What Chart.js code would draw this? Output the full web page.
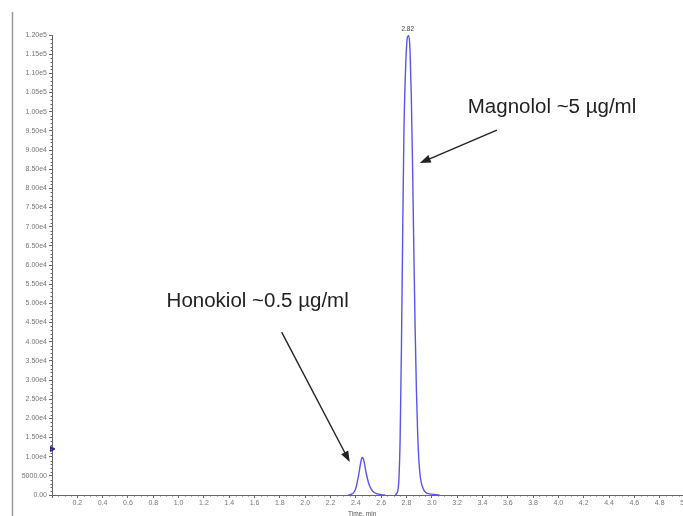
<!DOCTYPE html>
<html>
<head>
<meta charset="utf-8">
<script src="https://cdn.jsdelivr.net/npm/chart.js@4"></script>
<style>
  html, body { margin: 0; padding: 0; background: #fff; overflow: hidden; }
  #wrap { width: 700px; height: 516px; position: relative; }
</style>
</head>
<body>
<div id="wrap"><canvas id="chroma"></canvas></div>
<script>
// retention time (min) and detector response (cps)
// (only the traced stretches around the two peaks; null = break in the trace)
const timeMin = [
  2.34, 2.36, 2.38, 2.40, 2.42, 2.44, 2.45, 2.46, 2.47, 2.48, 2.50, 2.52, 2.54, 2.57, 2.60, 2.63,
  2.67,
  2.71, 2.725, 2.74, 2.75, 2.76, 2.77, 2.78, 2.795, 2.808, 2.818, 2.828, 2.838, 2.848, 2.858,
  2.868, 2.878, 2.888, 2.898, 2.91, 2.93, 2.95, 2.98, 3.02, 3.06
];
const intensity = [
  0, 150, 500, 1800, 4800, 8700, 9800, 9400, 7900, 6000, 3200, 1600, 800, 300, 100, 0,
  null,
  0, 500, 4000, 15000, 38000, 68000, 95000, 113000, 119500, 119800, 116000, 104000, 86000, 64000,
  44000, 28000, 16500, 9000, 4500, 1800, 700, 300, 120, 0
];
// peak label and start marker
const apexLabel = "2.82";
const apexTime = 2.81;
const markerTime = [0];
const markerValue = [12000];

// tick labels
const yTicks = [0, 5000, 10000, 15000, 20000, 25000, 30000, 35000, 40000, 45000, 50000,
  55000, 60000, 65000, 70000, 75000, 80000, 85000, 90000, 95000, 100000, 105000,
  110000, 115000, 120000];
const xTitle = "Time, min";

// annotations (text + arrow) in data units
const notes = [
  { text: "Magnolol ~5 µg/ml", tx: 3.284, ty: 99650, from: [3.514, 95200], to: [2.905, 86600] },
  { text: "Honokiol ~0.5 µg/ml", tx: 0.905, ty: 49000, from: [1.814, 42500], to: [2.352, 8600] }
];

const trace = timeMin.map((t, i) => ({ x: t, y: intensity[i] }));
const marker = markerTime.map((t, i) => ({ x: t, y: markerValue[i] }));

function fmtY(v) {
  if (v === 0) return "0.00";
  if (v < 10000) return v.toFixed(2);
  return v.toExponential(2).replace("e+", "e");
}

function arrow(ctx, x1, y1, x2, y2) {
  const a = Math.atan2(y2 - y1, x2 - x1);
  const L = 11, W = 4;
  ctx.beginPath();
  ctx.moveTo(x1, y1);
  ctx.lineTo(x2 - Math.cos(a) * L * 0.8, y2 - Math.sin(a) * L * 0.8);
  ctx.stroke();
  ctx.beginPath();
  ctx.moveTo(x2, y2);
  ctx.lineTo(x2 - Math.cos(a) * L - Math.sin(a) * W, y2 - Math.sin(a) * L + Math.cos(a) * W);
  ctx.lineTo(x2 - Math.cos(a) * L + Math.sin(a) * W, y2 - Math.sin(a) * L - Math.cos(a) * W);
  ctx.closePath();
  ctx.fill();
}

const extras = {
  id: "extras",
  afterDraw(chart) {
    const ctx = chart.ctx;
    const xs = chart.scales.x, ys = chart.scales.y;
    ctx.save();

    // window frame line at far left
    ctx.strokeStyle = "#9a9a9a";
    ctx.lineWidth = 1.5;
    ctx.beginPath();
    ctx.moveTo(12.5, 12);
    ctx.lineTo(12.5, 516);
    ctx.stroke();

    // minor ticks
    ctx.strokeStyle = "#666";
    ctx.lineWidth = 1;
    ctx.beginPath();
    for (let v = 1000; v < 120000; v += 1000) {
      if (v % 5000 === 0) continue;
      const py = Math.round(ys.getPixelForValue(v)) + 0.5;
      ctx.moveTo(xs.left - 1.5, py);
      ctx.lineTo(xs.left, py);
    }
    for (let k = 1; k < 100; k++) {
      if (k % 4 === 0) continue;
      const px = Math.round(xs.getPixelForValue(k * 0.05)) + 0.5;
      ctx.moveTo(px, ys.bottom);
      ctx.lineTo(px, ys.bottom + 1.5);
    }
    ctx.stroke();

    // apex label
    ctx.fillStyle = "#444";
    ctx.font = "6.5px 'Liberation Sans'";
    ctx.textAlign = "center";
    ctx.textBaseline = "alphabetic";
    ctx.fillText(apexLabel, xs.getPixelForValue(apexTime), ys.getPixelForValue(120000) - 4);

    // axis title
    ctx.fillStyle = "#555";
    ctx.fillText(xTitle, xs.getPixelForValue(2.45), 516);

    // annotations
    ctx.fillStyle = "#222";
    ctx.strokeStyle = "#222";
    ctx.lineWidth = 1.4;
    ctx.font = "20.5px 'Liberation Sans'";
    ctx.textAlign = "left";
    notes.forEach(n => {
      ctx.fillText(n.text, xs.getPixelForValue(n.tx), ys.getPixelForValue(n.ty));
      arrow(ctx,
        xs.getPixelForValue(n.from[0]), ys.getPixelForValue(n.from[1]),
        xs.getPixelForValue(n.to[0]), ys.getPixelForValue(n.to[1]));
    });
    ctx.restore();
  }
};

new Chart(document.getElementById("chroma"), {
  type: "line",
  data: {
    datasets: [
      {
        data: trace,
        borderColor: "#5656ea",
        borderWidth: 1.4,
        pointRadius: 0,
        spanGaps: false,
        cubicInterpolationMode: "monotone",
        fill: false
      },
      {
        data: marker,
        showLine: false,
        pointStyle: "triangle",
        rotation: 90,
        pointRadius: 3,
        backgroundColor: "#2a2a8a",
        borderColor: "#2a2a8a",
        borderWidth: 1
      }
    ]
  },
  options: {
    responsive: true,
    maintainAspectRatio: false,
    animation: false,
    devicePixelRatio: 1,
    clip: false,
    layout: { padding: { left: 0, top: 35, right: 15, bottom: 0 } },
    plugins: { legend: { display: false }, tooltip: { enabled: false } },
    scales: {
      x: {
        type: "linear",
        min: 0,
        max: 5.0,
        afterFit: s => { s.height = 21; },
        grid: { display: true, drawOnChartArea: false, drawTicks: true, tickLength: 3, color: "#666" },
        border: { color: "#666", width: 1 },
        ticks: {
          stepSize: 0.2,
          autoSkip: false,
          maxRotation: 0,
          padding: 1,
          color: "#777",
          font: { family: "Liberation Sans", size: 7 },
          callback: v => (Math.abs(v) < 1e-9 ? "" : (+v).toFixed(1))
        }
      },
      y: {
        min: 0,
        max: 120000,
        afterFit: s => { s.width = 52; },
        afterBuildTicks: s => { s.ticks = yTicks.map(v => ({ value: v })); },
        grid: { display: true, drawOnChartArea: false, drawTicks: true, tickLength: 3, color: "#666" },
        border: { color: "#666", width: 1 },
        ticks: {
          padding: 2,
          color: "#777",
          font: { family: "Liberation Sans", size: 7 },
          callback: v => fmtY(v)
        }
      }
    }
  },
  plugins: [extras]
});
</script>
</body>
</html>
